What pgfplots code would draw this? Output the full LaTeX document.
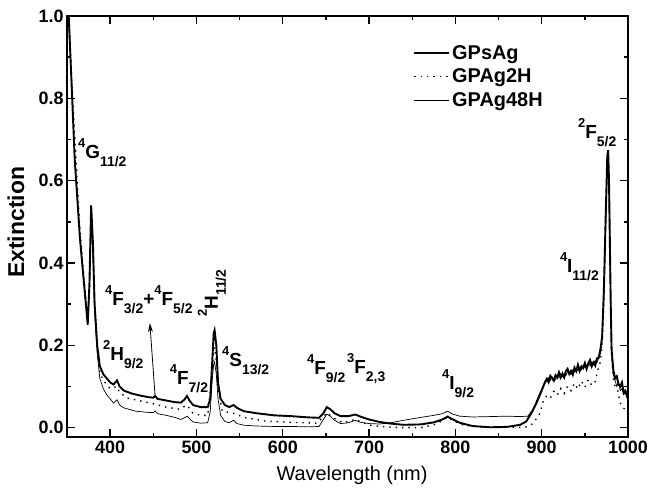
\documentclass[border=0pt]{standalone}
\usepackage{fontspec}
\setmainfont{Liberation Sans}
\usepackage{pgfplots}
\pgfplotsset{compat=1.18}
\usetikzlibrary{arrows.meta}

% spectroscopic term: ^{#1}#2_{#3}
\newcommand\lvl[3]{\raisebox{0.58em}{\fontsize{13}{13}\selectfont#1}#2\raisebox{-0.42em}{\fontsize{14}{14}\selectfont#3}}

\pgfplotstableread{
x y
352 1.0
356 0.80
359 0.65
365 0.46
371 0.32
374 0.25
376 0.35
378 0.54
380 0.45
382 0.30
385 0.20
388 0.15
392 0.13
396 0.12
400 0.11
404 0.105
408 0.115
411 0.10
416 0.09
425 0.083
435 0.078
445 0.074
450 0.073
452 0.077
455 0.070
465 0.066
475 0.062
482 0.061
486 0.068
489 0.077
492 0.066
496 0.055
505 0.050
513 0.050
516 0.070
518 0.150
520 0.230
521 0.237
523 0.200
525 0.110
528 0.070
533 0.055
538 0.050
543 0.055
547 0.048
555 0.040
570 0.035
590 0.030
610 0.028
630 0.025
642 0.024
647 0.035
651 0.050
655 0.045
660 0.035
667 0.028
676 0.028
684 0.032
690 0.027
700 0.020
712 0.014
725 0.010
740 0.007
760 0.008
775 0.013
785 0.020
791 0.027
797 0.020
805 0.012
820 0.004
840 0.001
860 0.002
875 0.007
882 0.015
888 0.035
894 0.060
900 0.090
904 0.112
906 0.119
908 0.1105
910 0.126
912 0.1205
914 0.114
916 0.1275
918 0.122
920 0.1345
922 0.122
924 0.1315
926 0.122
928 0.1375
930 0.143
932 0.1305
934 0.138
936 0.1285
938 0.146
940 0.1375
942 0.153
944 0.1375
946 0.149
948 0.1445
950 0.157
952 0.1425
954 0.156
956 0.1645
958 0.149
960 0.1585
962 0.151
964 0.1685
966 0.170
968 0.190
970 0.220
972 0.330
974 0.500
976 0.660
977 0.674
978 0.600
979 0.450
980 0.300
981 0.190
983 0.140
985 0.120
987 0.125
989 0.105
991 0.100
993 0.110
995 0.085
997 0.090
1000 0.070
}\gpsag

\pgfplotstableread{
x y
352 1.0
356 0.82
360 0.67
365 0.48
371 0.33
374 0.26
376 0.33
378 0.52
380 0.44
382 0.29
385 0.19
388 0.135
392 0.115
400 0.095
408 0.100
411 0.085
420 0.072
435 0.065
450 0.058
465 0.050
480 0.045
489 0.055
496 0.035
505 0.030
513 0.030
518 0.130
520 0.190
521 0.195
523 0.160
525 0.090
530 0.040
543 0.035
555 0.025
580 0.016
610 0.013
640 0.011
651 0.036
660 0.022
670 0.012
684 0.020
700 0.006
720 0.002
740 0.000
760 0.000
775 0.007
785 0.017
791 0.026
797 0.017
810 0.006
830 0.002
860 0.002
880 0.000
890 0.010
898 0.035
902 0.066
906 0.078
910 0.072
914 0.088
918 0.079
922 0.095
926 0.083
930 0.101
934 0.090
938 0.108
942 0.094
946 0.113
950 0.098
954 0.117
958 0.103
962 0.112
965 0.140
968 0.160
970 0.200
972 0.300
974 0.500
976 0.640
977 0.650
978 0.580
979 0.420
980 0.280
981 0.170
983 0.120
985 0.100
988 0.090
991 0.060
994 0.048
997 0.045
1000 0.050
}\gpagtwo

\pgfplotstableread{
x y
352 1.0
356 0.81
359 0.65
365 0.46
371 0.32
374 0.26
376 0.34
378 0.51
380 0.43
382 0.28
385 0.18
388 0.12
392 0.095
396 0.080
400 0.070
404 0.060
408 0.068
411 0.055
416 0.048
430 0.040
445 0.037
450 0.037
452 0.041
455 0.034
465 0.030
475 0.025
482 0.020
486 0.024
489 0.028
492 0.022
496 0.014
505 0.011
513 0.012
516 0.040
518 0.110
520 0.155
521 0.160
523 0.130
525 0.070
528 0.030
533 0.015
538 0.012
543 0.018
547 0.010
555 0.006
570 0.004
590 0.003
610 0.003
630 0.002
642 0.003
647 0.020
651 0.033
655 0.028
660 0.018
667 0.010
676 0.012
684 0.018
690 0.013
700 0.010
712 0.009
725 0.012
740 0.018
760 0.025
775 0.030
785 0.034
791 0.040
797 0.033
805 0.028
820 0.026
840 0.027
860 0.028
875 0.027
884 0.028
890 0.045
894 0.065
900 0.095
905 0.112
906 0.112
908 0.121
910 0.115
912 0.124
914 0.118
916 0.116
918 0.127
920 0.121
922 0.131
924 0.124
926 0.129
928 0.126
930 0.136
932 0.133
934 0.129
936 0.140
938 0.135
940 0.143
942 0.138
944 0.147
946 0.141
948 0.152
950 0.146
952 0.150
954 0.158
956 0.150
958 0.160
960 0.155
962 0.163
964 0.158
966 0.168
968 0.180
970 0.215
972 0.320
974 0.480
976 0.640
977 0.655
978 0.590
979 0.440
980 0.290
981 0.180
983 0.130
985 0.115
987 0.100
989 0.112
991 0.090
993 0.095
995 0.080
997 0.085
1000 0.065
}\gpagfe

\begin{document}
\begin{tikzpicture}
\useasboundingbox (-67bp,-61bp) rectangle (583bp,437bp);
\begin{axis}[
  scale only axis,
  width=561bp, height=421bp,
  xmin=350, xmax=1000, ymin=-0.0226, ymax=1.0,
  xtick={400,500,...,1000},
  minor xtick={350,450,...,950},
  ytick={0,0.2,...,1.0},
  minor ytick={0.1,0.3,...,0.9},
  tick align=inside,
  major tick length=8bp, minor tick length=4bp,
  every tick/.style={line width=1.4bp, black},
  axis line style={line width=1.6bp},
  /pgf/number format/assume math mode=true,
  /pgf/number format/1000 sep={},
  tick label style={font=\fontsize{18}{18}\selectfont\bfseries},
  yticklabel style={/pgf/number format/.cd, fixed, fixed zerofill, precision=1},
  xlabel={Wavelength (nm)},
  ylabel={\bfseries Extinction},
  xlabel style={font=\fontsize{20}{20}\selectfont, at={(axis description cs:0.508,-0.092)}, anchor=center},
  ylabel style={font=\fontsize{23}{23}\selectfont, at={(axis description cs:-0.0909,0.51)}, anchor=center},
  legend style={draw=none, fill=none, at={(rel axis cs:0.617,0.935)}, anchor=north west,
    font=\fontsize{20}{20}\selectfont\bfseries, row sep=4bp, inner sep=0pt},
  legend cell align=left,
  legend image code/.code={\draw[#1] (0bp,0bp) -- (35bp,0bp);},
  clip=true,
]
\addplot[black, line width=1.9bp] table[x=x,y=y] {\gpsag};
\addlegendentry{GPsAg}
\addplot[black, line width=1.4bp, dash pattern=on 1.4bp off 5bp] table[x=x,y=y] {\gpagtwo};
\addlegendentry{GPAg2H}
\addplot[black, line width=0.7bp] table[x=x,y=y] {\gpagfe};
\addlegendentry{GPAg48H}

\begin{scope}[every node/.style={font=\fontsize{19}{19}\selectfont\bfseries, inner sep=0pt}]
\node[anchor=west] at (axis cs:362.7,0.668) {\lvl{4}{G}{11/2}};
\node[anchor=west] at (axis cs:394,0.312) {\lvl{4}{F}{3/2}+\lvl{4}{F}{5/2}};
\node[anchor=west] at (axis cs:391.7,0.177) {\lvl{2}{H}{9/2}};
\node[anchor=west] at (axis cs:469,0.12) {\lvl{4}{F}{7/2}};
\node[anchor=center, rotate=90] at (axis cs:518,0.327) {\lvl{2}{H}{11/2}};
\node[anchor=west] at (axis cs:529.6,0.162) {\lvl{4}{S}{13/2}};
\node[anchor=west] at (axis cs:628,0.144) {\lvl{4}{F}{9/2}};
\node[anchor=west] at (axis cs:674.4,0.144) {\lvl{3}{F}{2,3}};
\node[anchor=west] at (axis cs:784.5,0.108) {\lvl{4}{I}{9/2}};
\node[anchor=west] at (axis cs:921,0.392) {\lvl{4}{I}{11/2}};
\node[anchor=west] at (axis cs:942,0.717) {\lvl{2}{F}{5/2}};
\end{scope}
\draw[-{Stealth[length=9bp,width=5bp]}, line width=0.8bp] (axis cs:452,0.079) -- (axis cs:446,0.254);
\end{axis}
\end{tikzpicture}
\end{document}
